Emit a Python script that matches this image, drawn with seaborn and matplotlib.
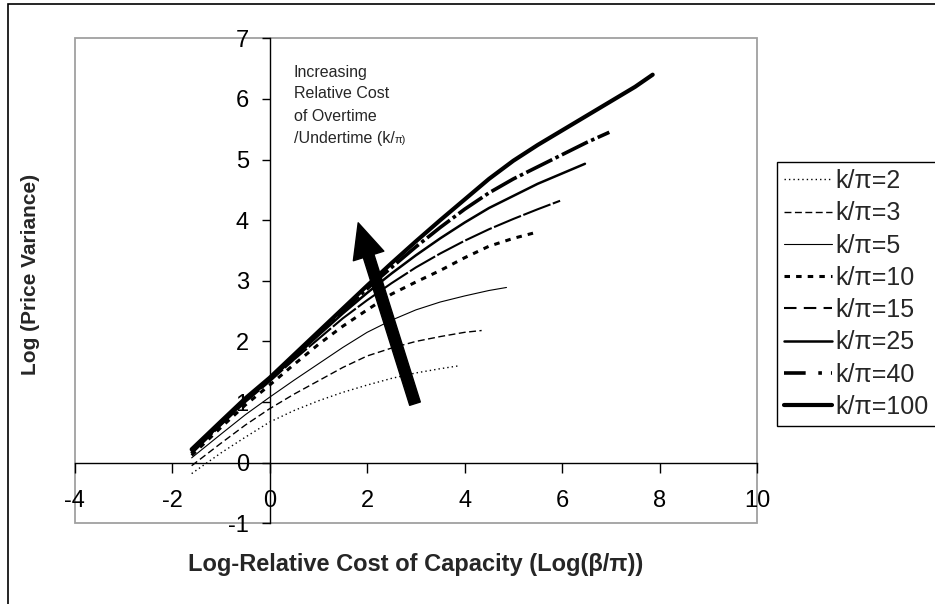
import matplotlib
matplotlib.use("Agg")
import matplotlib.pyplot as plt
from matplotlib.patches import Rectangle, FancyArrowPatch
from matplotlib.lines import Line2D
import numpy as np
import pandas as pd
import seaborn as sns

sns.set_theme(style="white")
plt.rcParams['font.family'] = ['Liberation Sans', 'DejaVu Sans']
plt.rcParams['axes.unicode_minus'] = False

# Log price variance vs. log-relative cost of capacity, one curve per k/pi ratio
series_labels = ["k/π=2", "k/π=3", "k/π=5", "k/π=10", "k/π=15", "k/π=25", "k/π=40", "k/π=100"]

x_k2 = [-1.6, -1.0, -0.5, 0.0, 0.5, 1.0, 1.5, 2.0, 2.5, 3.0, 3.5, 3.9]
y_k2 = [-0.18, 0.16, 0.42, 0.67, 0.86, 1.02, 1.16, 1.28, 1.39, 1.48, 1.55, 1.60]

x_k3 = [-1.6, -1.0, -0.5, 0.0, 0.5, 1.0, 1.5, 2.0, 2.5, 3.0, 3.5, 4.0, 4.35]
y_k3 = [-0.05, 0.32, 0.62, 0.89, 1.13, 1.35, 1.57, 1.76, 1.89, 2.00, 2.08, 2.15, 2.18]

x_k5 = [-1.6, -1.0, -0.5, 0.0, 0.5, 1.0, 1.5, 2.0, 2.5, 3.0, 3.5, 4.0, 4.5, 4.86]
y_k5 = [0.08, 0.47, 0.79, 1.08, 1.36, 1.63, 1.90, 2.15, 2.35, 2.52, 2.65, 2.75, 2.84, 2.89]

x_k10 = [-1.6, -1.0, -0.5, 0.0, 0.5, 1.0, 1.5, 2.0, 2.5, 3.0, 3.5, 4.0, 4.5, 5.0, 5.52]
y_k10 = [0.12, 0.58, 0.95, 1.28, 1.62, 1.95, 2.25, 2.52, 2.78, 2.98, 3.17, 3.38, 3.57, 3.70, 3.81]

x_k15 = [-1.6, -1.0, -0.5, 0.0, 0.5, 1.0, 1.5, 2.0, 2.5, 3.0, 3.5, 4.0, 4.5, 5.0, 5.5, 5.96]
y_k15 = [0.15, 0.62, 1.00, 1.34, 1.70, 2.04, 2.38, 2.68, 2.96, 3.22, 3.45, 3.66, 3.85, 4.02, 4.18, 4.32]

x_k25 = [-1.6, -1.0, -0.5, 0.0, 0.5, 1.0, 1.5, 2.0, 2.5, 3.0, 3.5, 4.0, 4.5, 5.0, 5.5, 6.0, 6.47]
y_k25 = [0.17, 0.64, 1.02, 1.36, 1.73, 2.10, 2.46, 2.80, 3.12, 3.42, 3.70, 3.96, 4.20, 4.40, 4.60, 4.77, 4.93]

x_k40 = [-1.6, -1.0, -0.5, 0.0, 0.5, 1.0, 1.5, 2.0, 2.5, 3.0, 3.5, 4.0, 4.5, 5.0, 5.5, 6.0, 6.5, 6.97]
y_k40 = [0.19, 0.66, 1.04, 1.38, 1.75, 2.13, 2.50, 2.87, 3.22, 3.56, 3.88, 4.18, 4.45, 4.68, 4.88, 5.08, 5.28, 5.45]

x_k100 = [-1.6, -1.0, -0.5, 0.0, 0.5, 1.0, 1.5, 2.0, 2.5, 3.0, 3.5, 4.0, 4.5, 5.0, 5.5, 6.0, 6.5, 7.0, 7.5, 7.86]
y_k100 = [0.22, 0.68, 1.06, 1.40, 1.78, 2.16, 2.54, 2.92, 3.29, 3.65, 4.00, 4.34, 4.68, 4.98, 5.24, 5.48, 5.72, 5.96, 6.20, 6.40]

xs = [x_k2, x_k3, x_k5, x_k10, x_k15, x_k25, x_k40, x_k100]
ys = [y_k2, y_k3, y_k5, y_k10, y_k15, y_k25, y_k40, y_k100]

x_ticks = [-4, -2, 0, 2, 4, 6, 8, 10]
y_ticks = [-1, 0, 1, 2, 3, 4, 5, 6, 7]

df = pd.concat(
    [pd.DataFrame({"log_cost": x, "log_var": y, "ratio": lab})
     for lab, x, y in zip(series_labels, xs, ys)],
    ignore_index=True,
)

# (width, dash pattern on the curve, dash pattern in the legend key)
line_styles = {
    "k/π=2":   (1.0, (0, (1, 2.2)), (0, (1, 2.2))),
    "k/π=3":   (1.0, (0, (5, 2.5)), (0, (5, 2.5))),
    "k/π=5":   (0.8, "-", "-"),
    "k/π=10":  (2.2, (0, (1.8, 2.0)), (0, (1.8, 2.0))),
    "k/π=15":  (1.5, (0, (14, 1.2)), (0, (6, 3.5))),
    "k/π=25":  (1.8, "-", "-"),
    "k/π=40":  (2.6, (0, (8, 1.0, 1.0, 1.0)), (0, (6, 3.5, 1, 2.5))),
    "k/π=100": (3.0, "-", "-"),
}

fig = plt.figure(figsize=(9.35, 6.04), dpi=100)
ax = fig.add_axes([0.0799, 0.1336, 0.7297, 0.8030])

handles = []
for lab in series_labels:
    lw, ls_curve, ls_key = line_styles[lab]
    sub = df[df["ratio"] == lab]
    sns.lineplot(data=sub, x="log_cost", y="log_var", ax=ax, color="black",
                 linewidth=lw, linestyle=ls_curve, sort=False,
                 estimator=None, legend=False)
    handles.append(Line2D([], [], color="black", lw=lw, linestyle=ls_key))

ax.set_xlim(-4, 10)
ax.set_ylim(-1, 7)
ax.set_xticks(x_ticks)
ax.set_yticks(y_ticks)
ax.set_xlabel("")
ax.set_ylabel("")

# axes cross at the origin
ax.spines["left"].set_position(("data", 0))
ax.spines["bottom"].set_position(("data", 0))
for s in ("left", "bottom"):
    ax.spines[s].set_color("black")
    ax.spines[s].set_linewidth(1.0)
for s in ("top", "right"):
    ax.spines[s].set_visible(False)

ax.tick_params(axis="x", bottom=True, direction="out", length=7, width=1,
               color="black", pad=13, labelsize=17, labelcolor="black")
ax.tick_params(axis="y", left=True, direction="out", length=6, width=1,
               color="black", pad=9, labelsize=17, labelcolor="black")

# grey plot-area border
ax.add_patch(Rectangle((0, 0), 1, 1, transform=ax.transAxes, fill=False,
                       edgecolor="#a0a0a0", lw=1.3, clip_on=False, zorder=0))

# outer chart frame
fig.patches.append(Rectangle((8 / 935, -0.05), 1.2, 1.05 - 4 / 604,
                             transform=fig.transFigure, fill=False,
                             edgecolor="black", lw=1.2))

# axis titles
fig.text(0.445, 0.0646, "Log-Relative Cost of Capacity (Log(β/π))",
         ha="center", va="center", fontsize=17, fontweight="bold")
fig.text(0.033, 0.545, "Log (Price Variance)", rotation=90,
         ha="center", va="center", fontsize=15, fontweight="bold")

# direction arrow
arrow = FancyArrowPatch((3.0, 0.93), (1.8, 4.0),
                        arrowstyle="simple,head_width=2.3,head_length=2.5,tail_width=0.8",
                        mutation_scale=10, color="black", zorder=5)
ax.add_patch(arrow)

# annotation text
ann_lines = ["Increasing", "Relative Cost", "of Overtime", "/Undertime (k/"]
ann_y = [6.366, 6.01, 5.64, 5.267]
last = None
for t, yv in zip(ann_lines, ann_y):
    last = ax.text(0.49, yv, t, ha="left", va="baseline", fontsize=11.5)
fig.canvas.draw()
bb = last.get_window_extent(renderer=fig.canvas.get_renderer())
base_px = ax.transData.transform((0.49, ann_y[-1]))[1]
W, H = fig.get_size_inches() * fig.dpi
fig.text((bb.x1 + 0.5) / W, base_px / H, "π)", ha="left", va="baseline",
         fontsize=8)

leg = ax.legend(handles, series_labels, loc="upper left",
                bbox_to_anchor=(0.8307, 0.7323), bbox_transform=fig.transFigure,
                frameon=True, fancybox=False, edgecolor="black", framealpha=1,
                borderpad=0.3, handlelength=1.9, handletextpad=0.15,
                labelspacing=0.33, borderaxespad=0, fontsize=18)
leg.get_frame().set_linewidth(1.0)

fig.savefig("out.png", dpi=100)
